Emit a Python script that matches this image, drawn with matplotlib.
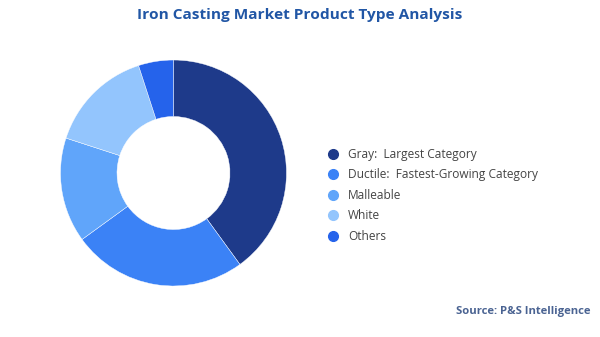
import matplotlib
matplotlib.use("Agg")
from matplotlib import pyplot as plt
from matplotlib.lines import Line2D

plt.rcParams['font.family'] = ['Open Sans', 'DejaVu Sans']

categories = ["Gray:  Largest Category", "Ductile:  Fastest-Growing Category",
              "Malleable", "White", "Others"]
shares = [40, 25, 15, 15, 5]
colors = ["#1e3a8a", "#3b82f6", "#60a5fa", "#93c5fd", "#2563eb"]

fig = plt.figure(figsize=(6, 3.37), dpi=100)

ax = fig.add_axes([0.1008, 0.1513, 0.3767, 0.6706])
ax.pie(shares, colors=colors, startangle=90, counterclock=False, radius=1,
       wedgeprops=dict(width=0.5, edgecolor="white", linewidth=0.3))
ax.set_xlim(-1, 1)
ax.set_ylim(-1, 1)
ax.set_aspect("equal")
ax.axis("off")

handles = [Line2D([0], [0], marker="o", linestyle="", markersize=7,
                  markerfacecolor=c, markeredgecolor=c) for c in colors]
fig.legend(handles, categories, loc="center left", bbox_to_anchor=(0.527, 0.42),
           frameon=False, fontsize=8.6, labelcolor="#444444", handlelength=1,
           handletextpad=0.75, labelspacing=0.63)

fig.text(0.5, 0.955, "Iron Casting Market Product Type Analysis", ha="center", va="center",
         fontsize=11.1, fontweight="bold", color="#2156a5")
fig.text(0.985, 0.077, "Source: P&S Intelligence", ha="right", va="center",
         fontsize=8.1, fontweight="bold", color="#4a6392")

fig.savefig("out.png", dpi=100)
